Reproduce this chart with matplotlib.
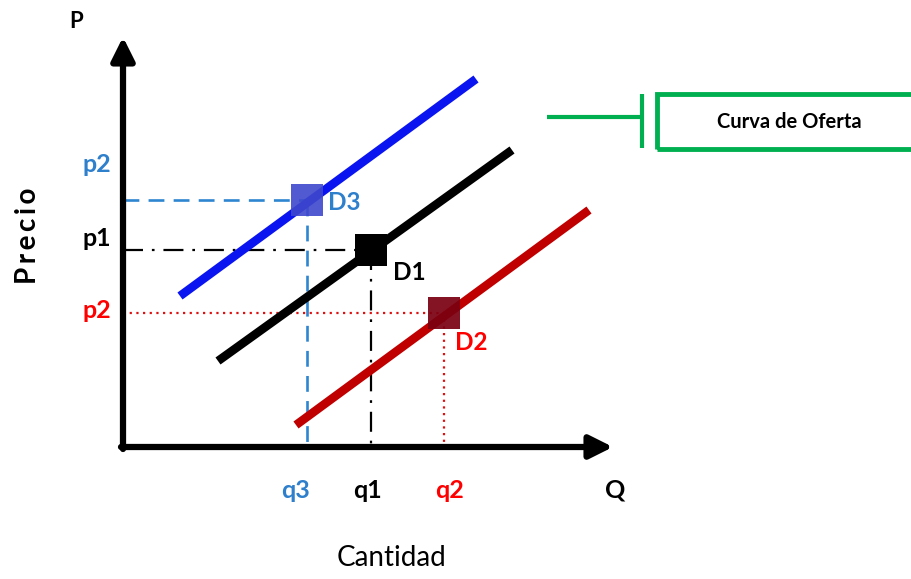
import matplotlib
matplotlib.use("Agg")
import matplotlib.pyplot as plt
from matplotlib.patches import Rectangle

plt.rcParams['font.family'] = ['Lato', 'DejaVu Sans']

# Curves (quantity, price) end points, measured from origin
curve_names = ["D3", "D1", "D2"]
curve_q = [[57, 353], [95, 389], [173, 466]]
curve_p = [[151, 368], [86, 297], [22, 237]]
curve_colors = ["#0A14F0", "#000000", "#C00000"]

# Equilibria
eq_q = [184, 248, 321]
eq_p = [247, 197, 134]
eq_colors = ["#3F48CC", "#000000", "#7A0010"]
guide_colors = ["#2E86D0", "#000000", "#E01010"]
guide_styles = [(0, (6, 3.5)), (0, (9, 4, 1.2, 4)), (0, (1, 2))]

q_labels = ["q3", "q1", "q2"]
p_labels = ["p2", "p1", "p2"]
label_colors = ["#2E7FCC", "#000000", "#FF0000"]

fig = plt.figure(figsize=(9.11, 5.79), dpi=100)
ax = fig.add_axes([0, 0, 1, 1])
ax.set_xlim(-123, 788)
ax.set_ylim(-132, 447)
ax.axis('off')

# axes arrows
ax.annotate('', xy=(0, 410), xytext=(0, -2),
            arrowprops=dict(arrowstyle='-|>,head_length=1.4,head_width=0.7', lw=4.5,
                            color='black', shrinkA=0, shrinkB=0))
ax.annotate('', xy=(490, 0), xytext=(-2, 0),
            arrowprops=dict(arrowstyle='-|>,head_length=1.4,head_width=0.7', lw=4.5,
                            color='black', shrinkA=0, shrinkB=0))

# guides
guide_lw = [1.9, 1.6, 1.6]
for q, p, c, ls, lw in zip(eq_q, eq_p, guide_colors, guide_styles, guide_lw):
    ax.plot([0, q], [p, p], color=c, lw=lw, linestyle=ls, zorder=2)
    ax.plot([q, q], [p, 0], color=c, lw=lw, linestyle=ls, zorder=2)

# curves
for qs, ps, c in zip(curve_q, curve_p, curve_colors):
    ax.plot(qs, ps, color=c, lw=6.2, solid_capstyle='butt', zorder=3)

# equilibrium squares
alphas = [0.9, 1.0, 0.92]
for q, p, c, a in zip(eq_q, eq_p, eq_colors, alphas):
    ax.plot([q], [p], marker='s', markersize=23.5, color=c, alpha=a, zorder=4,
            markeredgewidth=0)

# equilibrium labels
lab_off = [(21, -2), (22, -22), (11, -30)]
lab_cols = ["#2E7FCC", "#000000", "#FF0000"]
for name, q, p, (dx, dy), c in zip(curve_names, eq_q, eq_p, lab_off, lab_cols):
    ax.text(q + dx, p + dy, name, color=c, fontsize=17.5, fontweight='bold',
            ha='left', va='center', zorder=5)

# tick labels
q_dx = [-11, -4, 5]
for q, dx, lab, c in zip(eq_q, q_dx, q_labels, label_colors):
    ax.text(q + dx, -43, lab, color=c, fontsize=18, fontweight='bold',
            ha='center', va='center')
p_pos = [283, 208, 137]
for y, lab, c in zip(p_pos, p_labels, label_colors):
    ax.text(-26, y, lab, color=c, fontsize=18, fontweight='bold', ha='center', va='center')

ax.text(492, -43, "Q", fontsize=18, fontweight='bold', ha='center', va='center')
ax.text(-47, 426, "P", fontsize=16, fontweight='bold', ha='center', va='center')
ax.text(268, -111, "Cantidad", fontsize=20, ha='center', va='center')
ax.text(-95, 211, "P\u2009r\u2009e\u2009c\u2009i\u2009o", fontsize=20, fontweight='bold',
        rotation=90, ha='center', va='center')

# legend-like box
green = "#00B050"
ax.plot([424, 519], [330, 330], color=green, lw=3, solid_capstyle='butt')
ax.plot([519, 519], [299, 353], color=green, lw=3, solid_capstyle='butt')
ax.add_patch(Rectangle((534, 298), 280, 55, fill=False, edgecolor=green, lw=3.5))
ax.text(666, 325, "Curva de Oferta", fontsize=14.5, fontweight='bold',
        ha='center', va='center')

fig.savefig("out.png", dpi=100)
